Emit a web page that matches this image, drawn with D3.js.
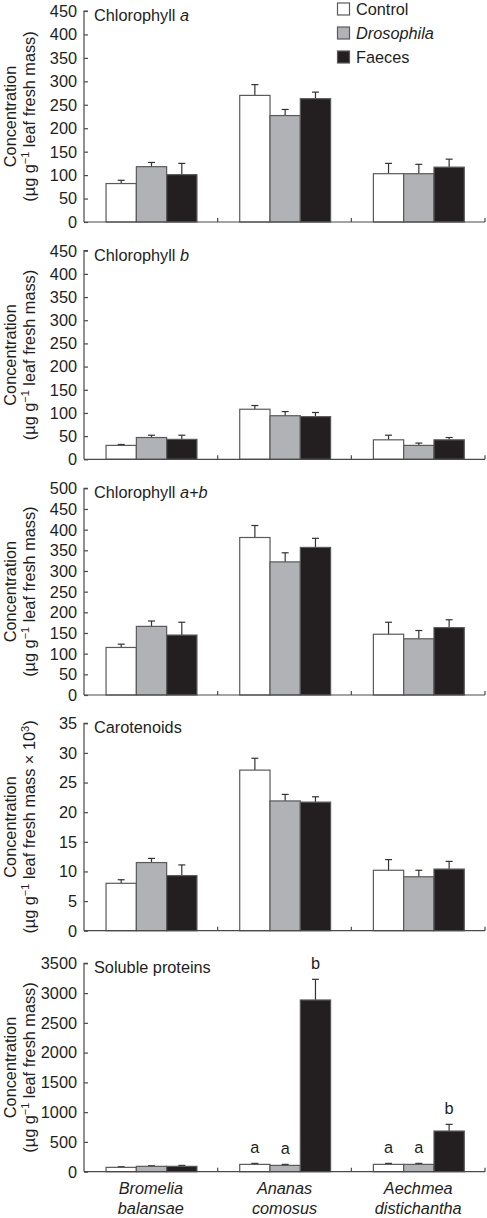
<!DOCTYPE html>
<html>
<head>
<meta charset="utf-8">
<script src="https://cdn.jsdelivr.net/npm/d3@7"></script>
<style>
  html, body { margin: 0; padding: 0; background: #fff; }
  svg { display: block; font-family: "Liberation Sans", Arial, Helvetica, sans-serif; }
</style>
</head>
<body>
<svg id="chart" width="487" height="1218"></svg>
<script>
// ---------------- DATA ----------------
const categories = [["Bromelia", "balansae"], ["Ananas", "comosus"], ["Aechmea", "distichantha"]];
const series = ["Control", "Drosophila", "Faeces"];
const seriesItalic = [false, true, false];

// means [category][series] and standard errors
const chlAMeans = [[82, 118, 101], [270, 227, 263], [103, 103, 117]];
const chlAErr   = [[7, 9, 24], [23, 13, 14], [22, 20, 17]];
const chlBMeans = [[30, 47, 43], [108, 94, 92], [42, 30, 42]];
const chlBErr   = [[2, 5, 9], [8, 9, 9], [10, 5, 5]];
const chlABMeans = [[115, 166, 145], [381, 322, 357], [147, 136, 163]];
const chlABErr   = [[8, 13, 31], [29, 22, 22], [29, 20, 19]];
const carMeans = [[8.0, 11.5, 9.3], [27.1, 21.9, 21.7], [10.2, 9.1, 10.4]];
const carErr   = [[0.6, 0.7, 1.8], [2.0, 1.1, 0.9], [1.8, 1.1, 1.3]];
const protMeans = [[73, 90, 90], [123, 106, 2884], [123, 123, 683]];
const protErr   = [[11, 10, 16], [17, 17, 347], [17, 17, 112]];
const protLetters = [["", "", ""], ["a", "a", "b"], ["a", "a", "b"]];

const ticksChlA = [0, 50, 100, 150, 200, 250, 300, 350, 400, 450];
const ticksChlB = [0, 50, 100, 150, 200, 250, 300, 350, 400, 450];
const ticksChlAB = [0, 50, 100, 150, 200, 250, 300, 350, 400, 450, 500];
const ticksCar = [0, 5, 10, 15, 20, 25, 30, 35];
const ticksProt = [0, 500, 1000, 1500, 2000, 2500, 3000, 3500];

const titles = [
  [["Chlorophyll ", false], ["a", true]],
  [["Chlorophyll ", false], ["b", true]],
  [["Chlorophyll ", false], ["a+b", true]],
  [["Carotenoids", false]],
  [["Soluble proteins", false]]
];

// ---------------- STYLE / LAYOUT ----------------
const fills = ["#ffffff", "#b1b2b5", "#231f20"];
const axisColor = "#4a4a4a";
const barStroke = "#5a5a5a";
const textColor = "#1e1e1e";
const fs = 16.3;
const xLeft = 84, xRight = 485;

const panels = [
  { top: 11,    bottom: 222,   means: chlAMeans,  err: chlAErr,  ticks: ticksChlA,  title: titles[0], times: false, letters: null },
  { top: 250.7, bottom: 459.3, means: chlBMeans,  err: chlBErr,  ticks: ticksChlB,  title: titles[1], times: false, letters: null },
  { top: 488.3, bottom: 695,   means: chlABMeans, err: chlABErr, ticks: ticksChlAB, title: titles[2], times: false, letters: null },
  { top: 723.3, bottom: 930.7, means: carMeans,   err: carErr,   ticks: ticksCar,   title: titles[3], times: true,  letters: null },
  { top: 963.3, bottom: 1171.7, means: protMeans, err: protErr,  ticks: ticksProt,  title: titles[4], times: false, letters: protLetters }
];

const svg = d3.select("#chart");

const x0 = d3.scaleBand().domain(d3.range(categories.length)).range([xLeft, xRight]).padding(0);
const bw = x0.bandwidth();
const x1 = d3.scaleBand().domain(series).range([bw * 0.165, bw * 0.845]).padding(0);

panels.forEach((p, pi) => {
  const g = svg.append("g");
  const dmax = p.ticks[p.ticks.length - 1];
  const y = d3.scaleLinear().domain([0, dmax]).range([p.bottom, p.top]);

  // bars
  p.means.forEach((row, ci) => {
    row.forEach((v, si) => {
      const bx = x0(ci) + x1(series[si]);
      const top = y(v + p.err[ci][si]);
      const cx = bx + x1.bandwidth() / 2;
      // error bar
      g.append("line").attr("x1", cx).attr("x2", cx).attr("y1", y(v)).attr("y2", top)
        .attr("stroke", "#333").attr("stroke-width", 1.2);
      g.append("line").attr("x1", cx - 3.5).attr("x2", cx + 3.5).attr("y1", top).attr("y2", top)
        .attr("stroke", "#333").attr("stroke-width", 1.2);
      g.append("rect")
        .attr("x", bx).attr("y", y(v))
        .attr("width", x1.bandwidth()).attr("height", p.bottom - y(v))
        .attr("fill", fills[si]).attr("stroke", barStroke).attr("stroke-width", 1.2);
      if (p.letters && p.letters[ci][si]) {
        g.append("text").attr("x", cx).attr("y", top - 10)
          .attr("text-anchor", "middle").attr("font-size", fs).attr("fill", textColor)
          .text(p.letters[ci][si]);
      }
    });
  });

  // y axis
  const yAxis = d3.axisRight(y).tickValues(p.ticks).tickSize(4).tickFormat("");
  const ya = g.append("g").attr("transform", `translate(${xLeft},0)`).call(yAxis);
  ya.select(".domain").attr("d", `M4,${p.top}H0V${p.bottom}`);
  ya.selectAll("line, path").attr("stroke", axisColor).attr("stroke-width", 1.2);
  g.selectAll(null).data(p.ticks).enter().append("text")
    .attr("x", 77).attr("y", d => y(d)).attr("dy", "0.36em")
    .attr("text-anchor", "end").attr("font-size", fs).attr("fill", textColor)
    .text(d => d);

  // x axis (ticks pointing up at group boundaries)
  const bounds = d3.range(1, categories.length + 1).map(i => xLeft + bw * i);
  g.append("line").attr("x1", xLeft).attr("x2", xRight).attr("y1", p.bottom).attr("y2", p.bottom)
    .attr("stroke", axisColor).attr("stroke-width", 1.2);
  g.selectAll(null).data(bounds).enter().append("line")
    .attr("x1", d => d).attr("x2", d => d).attr("y1", p.bottom).attr("y2", p.bottom - 4)
    .attr("stroke", axisColor).attr("stroke-width", 1.2);

  // panel title
  const t = g.append("text").attr("x", 94).attr("y", p.top + 10).attr("font-size", fs).attr("fill", textColor);
  p.title.forEach(([s, it]) => t.append("tspan").attr("font-style", it ? "italic" : "normal").text(s));

  // y label
  const cy = (p.top + p.bottom) / 2;
  g.append("text").attr("transform", `translate(15.5,${cy}) rotate(-90)`)
    .attr("text-anchor", "middle").attr("font-size", fs).attr("fill", textColor)
    .text("Concentration");
  const l2 = g.append("text").attr("transform", `translate(34.5,${cy}) rotate(-90)`)
    .attr("text-anchor", "middle").attr("font-size", fs).attr("fill", textColor);
  l2.append("tspan").text("(µg g");
  l2.append("tspan").attr("font-size", 11).attr("dy", -6).text("−1");
  l2.append("tspan").attr("dy", 6).text(p.times ? " leaf fresh mass × 10" : " leaf fresh mass)");
  if (p.times) {
    l2.append("tspan").attr("font-size", 11).attr("dy", -6).text("3");
    l2.append("tspan").attr("dy", 6).text(")");
  }
});

// category labels under last panel
const lastBottom = panels[panels.length - 1].bottom;
categories.forEach((lines, ci) => {
  const cx = x0(ci) + bw / 2;
  lines.forEach((s, li) => {
    svg.append("text").attr("x", cx).attr("y", lastBottom + 22 + li * 20)
      .attr("text-anchor", "middle").attr("font-size", fs).attr("font-style", "italic").attr("fill", textColor)
      .text(s);
  });
});

// legend
const lg = svg.append("g");
series.forEach((s, i) => {
  const yy = 9 + i * 24;
  lg.append("rect").attr("x", 337.5).attr("y", yy - 6).attr("width", 12).attr("height", 12)
    .attr("fill", fills[i]).attr("stroke", barStroke).attr("stroke-width", 1.2);
  lg.append("text").attr("x", 356).attr("y", yy).attr("dy", "0.36em")
    .attr("font-size", fs).attr("font-style", seriesItalic[i] ? "italic" : "normal").attr("fill", textColor)
    .text(s);
});
</script>
</body>
</html>
